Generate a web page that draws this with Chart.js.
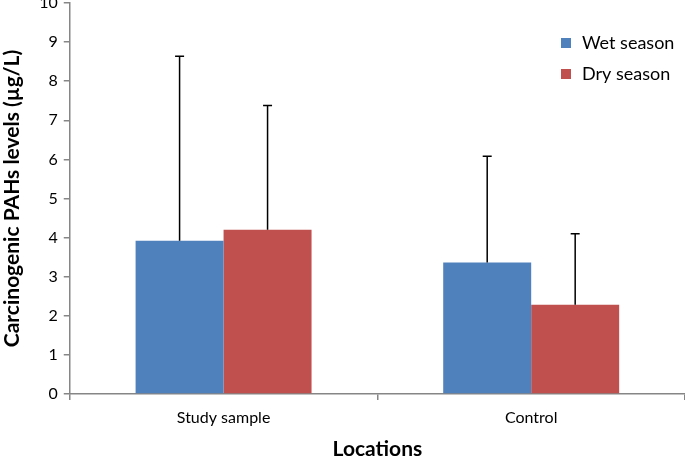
<!DOCTYPE html>
<html><head><meta charset="utf-8">
<script src="https://cdn.jsdelivr.net/npm/chart.js@4"></script>
<style>html,body{margin:0;padding:0;background:#fff}#wrap{width:685px;height:457px}</style>
</head><body><div id="wrap"><canvas id="c"></canvas></div>
<script>
const categories = ["Study sample", "Control"];
const wetSeason = [3.92, 3.36];
const drySeason = [4.20, 2.28];
const wetSD = [4.72, 2.72];
const drySD = [3.18, 1.82];
const yTicks = [0,1,2,3,4,5,6,7,8,9,10];
const FONT = "Lato, 'Open Sans', sans-serif";

const errorBars = {
  id: 'errorBars',
  afterDatasetsDraw(chart) {
    const ctx = chart.ctx, y = chart.scales.y;
    chart.data.datasets.forEach((ds, i) => {
      const meta = chart.getDatasetMeta(i);
      meta.data.forEach((bar, j) => {
        const top = y.getPixelForValue(ds.data[j] + ds.sd[j]);
        ctx.save();
        ctx.strokeStyle = '#000'; ctx.lineWidth = 1.5;
        ctx.beginPath();
        ctx.moveTo(bar.x, bar.y); ctx.lineTo(bar.x, top);
        ctx.moveTo(bar.x - 4.5, top); ctx.lineTo(bar.x + 4.5, top);
        ctx.stroke();
        ctx.restore();
      });
    });
  }
};
const legendPlugin = {
  id: 'cornerLegend',
  afterDraw(chart) {
    const ctx = chart.ctx;
    ctx.save();
    ctx.font = "18px " + FONT;
    ctx.textBaseline = 'middle';
    chart.data.datasets.forEach((ds, i) => {
      const yy = 43 + i * 31;
      ctx.fillStyle = ds.backgroundColor;
      ctx.fillRect(561, yy - 5, 10, 10);
      ctx.fillStyle = '#000';
      ctx.fillText(ds.label, 582, yy);
    });
    ctx.restore();
  }
};

new Chart(document.getElementById('c'), {
  type: 'bar',
  data: {
    labels: categories,
    datasets: [
      {label: 'Wet season', data: wetSeason, sd: wetSD, backgroundColor: '#4F81BD'},
      {label: 'Dry season', data: drySeason, sd: drySD, backgroundColor: '#C0504D'}
    ]
  },
  options: {
    responsive: true, maintainAspectRatio: false, animation: false,
    devicePixelRatio: 1,
    layout: {padding: {top: 0, right: 0, left: 0, bottom: 0}},
    datasets: {bar: {categoryPercentage: 0.572, barPercentage: 1}},
    plugins: {legend: {display: false}, tooltip: {enabled: false}},
    scales: {
      x: {
        afterFit(scale) { scale.height = 63; },
        grid: {display: true, drawOnChartArea: false, offset: true, color: '#868686', tickLength: 6, lineWidth: 1.5},
        border: {color: '#868686', width: 1.5},
        ticks: {color: '#000', font: {family: FONT, size: 16}, padding: 8},
        title: {display: true, text: 'Locations', color: '#000', font: {family: FONT, size: 21, weight: 'bold', lineHeight: 1}, padding: {top: 10, bottom: -3}}
      },
      y: {
        min: 0, max: 10,
        afterBuildTicks(scale) { scale.ticks = yTicks.map(v => ({value: v})); },
        afterFit(scale) { scale.paddingTop = 3; },
        grid: {display: true, drawOnChartArea: false, color: '#868686', tickLength: 6, lineWidth: 1.5},
        border: {color: '#868686', width: 1.5},
        ticks: {color: '#000', font: {family: FONT, size: 16}, padding: 6},
        title: {display: true, text: 'Carcinogenic PAHs levels (µg/L)', color: '#000', font: {family: FONT, size: 21, weight: 'bold'}, padding: {top: 0, bottom: 8}}
      }
    }
  },
  plugins: [errorBars, legendPlugin]
});
</script></body></html>
